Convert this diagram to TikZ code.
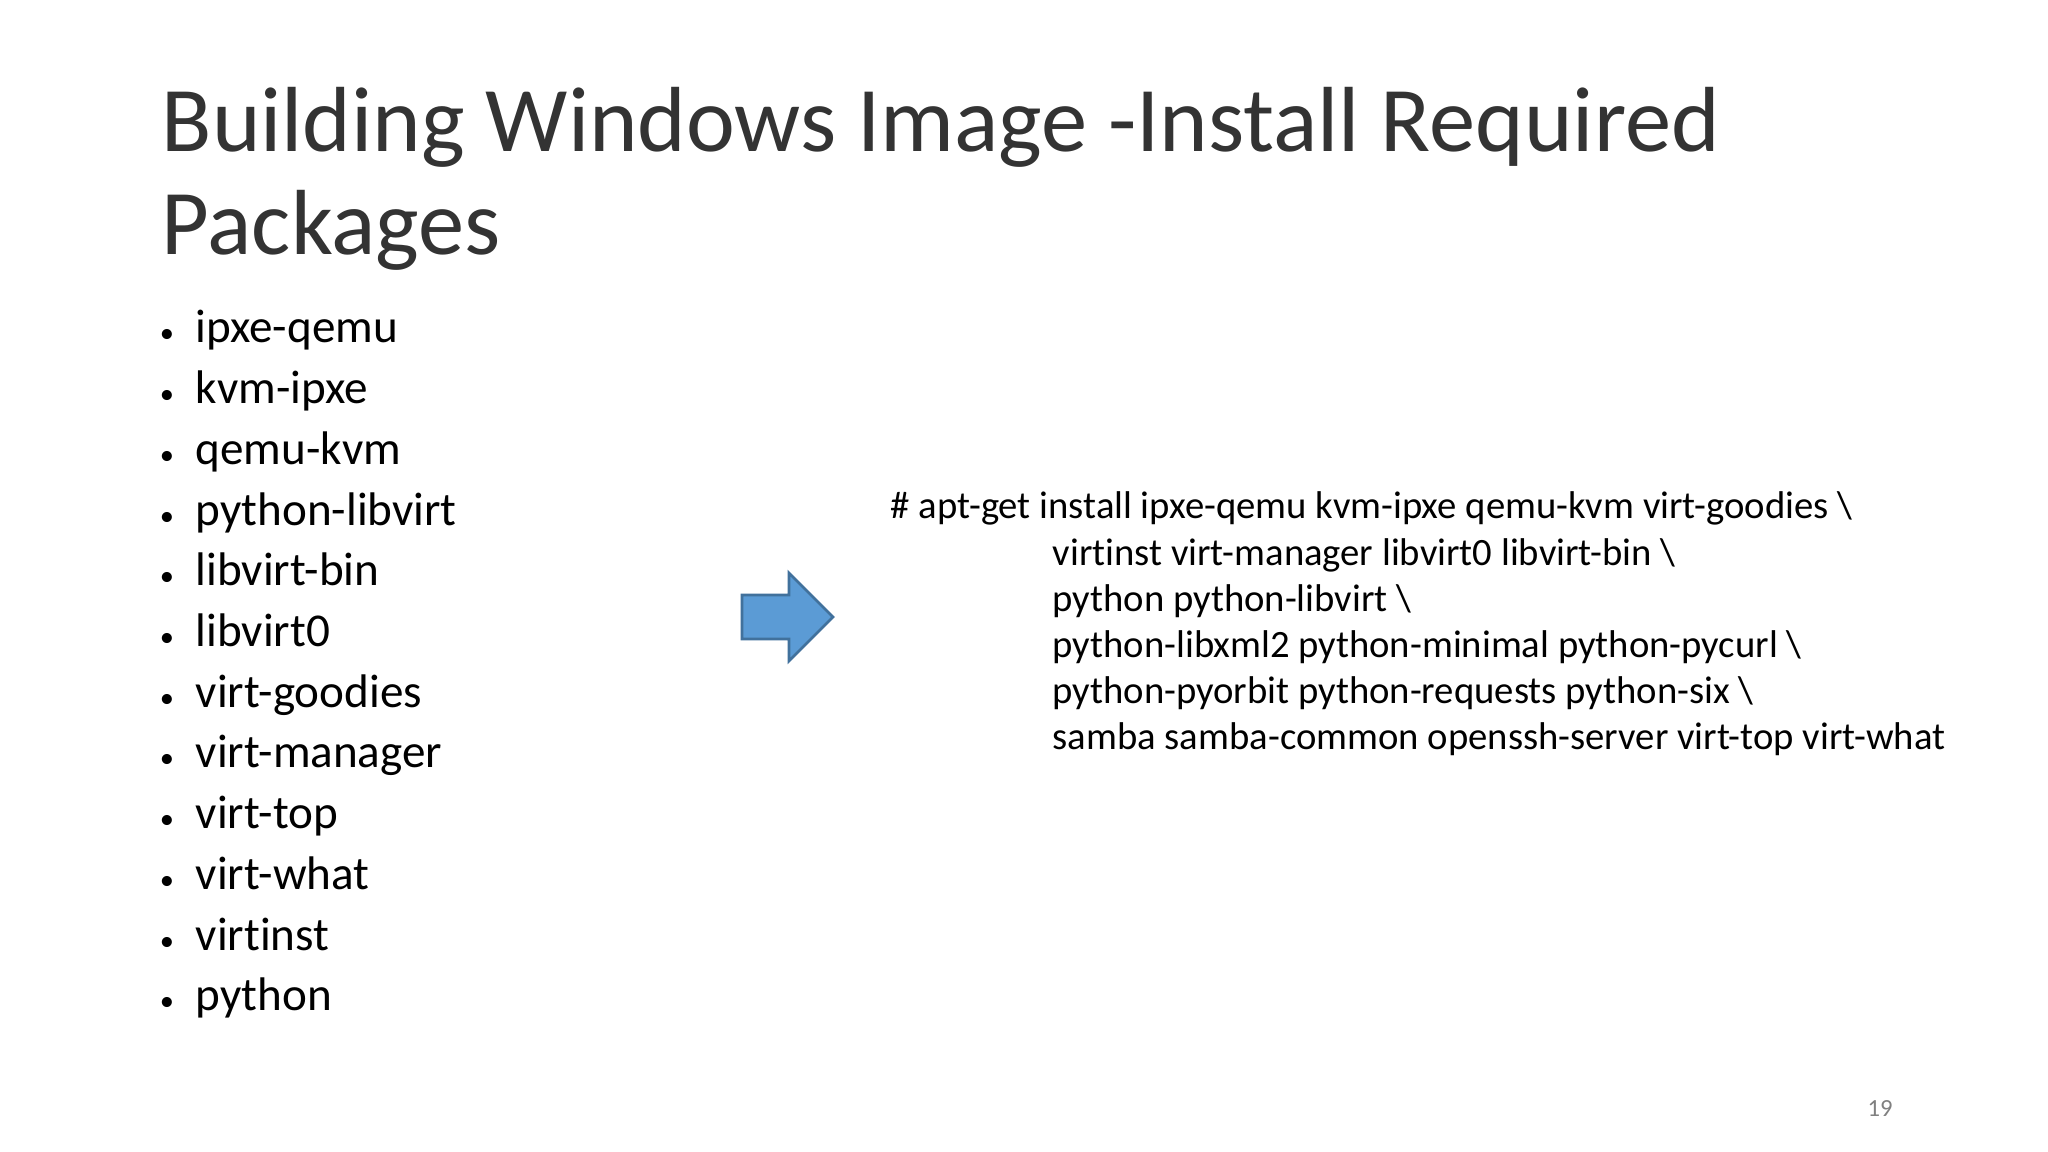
\documentclass[tikz,border=0pt]{standalone}
\usepackage{fontspec}
\setmainfont{Carlito}[Ligatures=NoCommon]
\begin{document}
\begin{tikzpicture}[x=0.01cm,y=-0.01cm,
  title/.style={anchor=base west,inner sep=0,font=\fontsize{26.3}{32}\selectfont,text=black!80},
  item/.style={anchor=base west,inner sep=0,font=\fontsize{13.4}{16}\selectfont},
  bul/.style={anchor=base,inner sep=0,font=\fontsize{13.5}{16}\selectfont},
  code/.style={anchor=base west,inner sep=0,font=\fontsize{11}{13}\selectfont}]
\useasboundingbox (0,0) rectangle (2048,1152);
\fill[white] (0,0) rectangle (2048,1152);
\node[title] (t1) at (161,152) {Building Windows Image -Install Required};
\node[title] (t2) at (161,255) {Packages};
\foreach \t [count=\i from 0] in {ipxe-qemu,kvm-ipxe,qemu-kvm,python-libvirt,libvirt-bin,libvirt0,virt-goodies,virt-manager,virt-top,virt-what,virtinst,python}{
  \node[bul] (b\i) at (167,{343+60.7*\i}) {\scalebox{0.6}{•}};
  \node[item] (i\i) at (195,{343+60.7*\i}) {\t};
}
\draw[fill={rgb,255:red,91;green,155;blue,213},draw={rgb,255:red,65;green,113;blue,156},line width=0.8pt]
  (742,595) -- (789,595) -- (789,573) -- (833,617) -- (789,661) -- (789,639) -- (742,639) -- cycle;
\node[code] (c0) at (890,519) {\# apt-get install ipxe-qemu kvm-ipxe qemu-kvm virt-goodies \textbackslash};
\foreach \t [count=\i from 1] in {virtinst virt-manager libvirt0 libvirt-bin \textbackslash,python python-libvirt \textbackslash,python-libxml2 python-minimal python-pycurl \textbackslash,python-pyorbit python-requests python-six \textbackslash,samba samba-common openssh-server virt-top virt-what}{
  \node[code] (c\i) at (1052,{519+46*\i}) {\t};
}
\node[anchor=base,inner sep=0,font=\fontsize{7}{8}\selectfont,text=black!50] (pg) at (1880,1116) {19};
\end{tikzpicture}
\end{document}
